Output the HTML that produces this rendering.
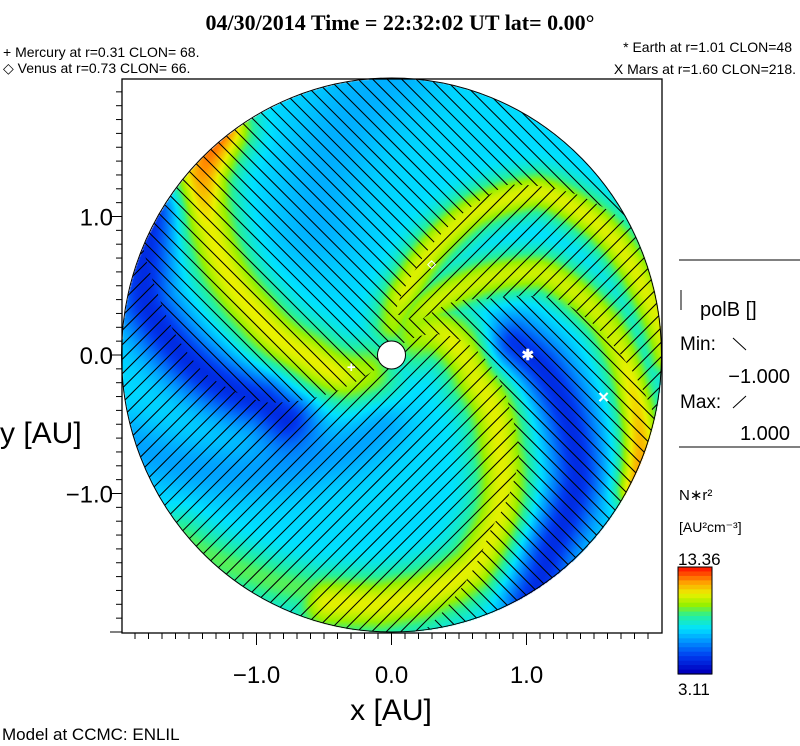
<!DOCTYPE html>
<html><head><meta charset="utf-8">
<style>
body{margin:0;background:#fff;width:800px;height:746px;overflow:hidden;position:relative;font-family:"Liberation Sans",sans-serif}
#cv{position:absolute;left:0;top:0}
#sv{position:absolute;left:0;top:0}
</style></head>
<body>
<canvas id="cv" width="800" height="746"></canvas>
<svg id="sv" width="800" height="746">
<text x="400" y="30" text-anchor="middle" font-family="Liberation Serif,serif" font-weight="bold" font-size="22">04/30/2014 Time = 22:32:02 UT lat= 0.00°</text>
<text x="3" y="57" font-size="14">+ Mercury at r=0.31 CLON= 68.</text>
<text x="3" y="73" font-size="14">◇ Venus at r=0.73 CLON= 66.</text>
<text x="792" y="52" text-anchor="end" font-size="14">* Earth at  r=1.01 CLON=48</text>
<text x="796" y="74" text-anchor="end" font-size="14">X Mars at r=1.60 CLON=218.</text>
<g id="plot"></g>
<rect x="122" y="79" width="540" height="554" fill="none" stroke="#000" stroke-width="1.3"/>
<g id="axes"></g>
<text x="0" y="443" font-size="30">y [AU]</text>
<text x="391" y="720" text-anchor="middle" font-size="30">x [AU]</text>
<text x="2" y="740" font-size="17">Model at CCMC: ENLIL</text>
<g>
<line x1="679" y1="260" x2="800" y2="260" stroke="#000"/>
<line x1="681" y1="290" x2="681" y2="310" stroke="#000"/>
<text x="700" y="316" font-size="20">polB []</text>
<text x="680" y="350" font-size="19">Min:</text>
<line x1="733" y1="338" x2="746" y2="350" stroke="#000"/>
<text x="790" y="383" text-anchor="end" font-size="20">−1.000</text>
<text x="680" y="408" font-size="19">Max:</text>
<line x1="733" y1="408" x2="746" y2="396" stroke="#000"/>
<text x="790" y="440" text-anchor="end" font-size="20">1.000</text>
<line x1="679" y1="447" x2="800" y2="447" stroke="#000"/>
</g>
<g>
<text x="679" y="500" font-size="15">N∗r²</text>
<text x="679" y="532" font-size="14">[AU²cm⁻³]</text>
<text x="678" y="565" font-size="17">13.36</text>
<g id="cbar"></g>
<rect x="678" y="567" width="34" height="107" fill="none" stroke="#000"/>
<text x="678" y="695" font-size="17">3.11</text>
</g>
</svg>
<script>
// planet data
const planetNames=['mercury','venus','earth','mars'];
const planetR=[0.31,0.73,1.01,1.60];
const planetAngle=[-164,66,0,-11];
const planetMarker=['+','◇','✱','✕'];
const xTicks=[-1,0,1];
const yTicks=[1,0,-1];
// density structures: radius [AU] and angle [deg] along each feature
const armAoR=[0.2,0.56,1.19,1.62,1.83,1.95,2.05], armAoA=[88,75,60,47,29,12,0];
const armAiR=[0.25,0.69,1.27,1.59,1.77,1.95,2.05], armAiA=[58,44,28,9,-7,-20,-28];
const armBR=[0.2,0.35,0.66,1.04,1.39,1.67,1.78,1.85], armBA=[40,27,-16,-40,-55,-70,-88,-105];
const armGR=[1.8,1.9,2.05], armGA=[-110,-125,-140];
const armLR=[0.2,0.62,1.06,1.52,1.9,2.05], armLA=[215,181,163,149,137,128];
const armDR=[0.9,1.0,1.4,1.87,2.05], armDA=[210,199,185,168,150];
const armER=[0.9,1.1,1.36,1.64,1.82,2.05], armEA=[5,-4,-18,-33,-50,-60];
const armFR=[0.5,0.9,1.3,1.7,2.05], armFA=[260,235,220,208,198];
const armHR=[1.1,1.6,2.05], armHA=[120,105,90];
// magnetic sector boundaries (polB = +1 between them)
const sec1aR=[0.1,0.46,0.97,1.2,1.46,1.81,2.05], sec1aA=[45,17,-25,-38,-60,-75,-85];
const sec1bR=[0.1,0.17,1.0,1.4,1.8,2.05], sec1bA=[-130,-140,-160,-175,-195,-205];
const sec2aR=[0.3,0.6,1.0,1.5,1.8,2.05], sec2aA=[85,75,66,55,40,25];
const sec2bR=[0.3,0.6,0.8,1.3,1.7,2.05], sec2bA=[50,40,30,18,0,-15];

const CX=391.5,CY=355,SX=135,SY=138.5,R=2.0;
const px=(x)=>CX+x*SX, py=(y)=>CY-y*SY;
const NS='http://www.w3.org/2000/svg';
function mk(t,a,p){const e=document.createElementNS(NS,t);for(const k in a)e.setAttribute(k,a[k]);(p||document.getElementById('plot')).appendChild(e);return e;}

function interp(rs,as,r){if(r<rs[0]||r>rs[rs.length-1])return null;for(let i=0;i<rs.length-1;i++){if(r<=rs[i+1]){const t=(r-rs[i])/(rs[i+1]-rs[i]);return as[i]+t*(as[i+1]-as[i]);}}return as[as.length-1];}
function armPts(rs,as){const p=[];for(let r=rs[0];r<=rs[rs.length-1]+1e-6;r+=0.05){const a=interp(rs,as,Math.min(r,rs[rs.length-1]))*Math.PI/180;p.push([r*Math.cos(a),r*Math.sin(a)]);}return p;}
function segD(x,y,p){let best=1e9;for(let i=0;i<p.length-1;i++){const ax=p[i][0],ay=p[i][1],bx=p[i+1][0]-ax,by=p[i+1][1]-ay;let t=((x-ax)*bx+(y-ay)*by)/(bx*bx+by*by);t=Math.max(0,Math.min(1,t));const dx=x-ax-t*bx,dy=y-ay-t*by,d=dx*dx+dy*dy;if(d<best)best=d;}return best;}
const feats=[
 [armPts(armAoR,armAoA),0.33,0.11,0],
 [armPts(armAiR,armAiA),0.31,0.11,1],
 [armPts(armBR,armBA),0.34,0.15,0],
 [armPts(armGR,armGA),0.18,0.13,0],
 [armPts(armLR,armLA),0.35,0.15,1],
 [armPts(armDR,armDA),-0.30,0.15,0],
 [armPts(armER,armEA),-0.30,0.14,0],
 [armPts(armFR,armFA),-0.09,0.15,0],
 [armPts(armHR,armHA),-0.07,0.25,0]];
const stops=[[0,[0,0,190]],[0.15,[0,60,240]],[0.3,[0,150,255]],[0.42,[0,225,255]],[0.55,[40,240,150]],[0.65,[150,240,0]],[0.76,[235,240,0]],[0.87,[255,160,0]],[1,[255,30,0]]];
function cmap(v){v=Math.max(0,Math.min(1,v));for(let i=0;i<stops.length-1;i++){if(v<=stops[i+1][0]){const t=(v-stops[i][0])/(stops[i+1][0]-stops[i][0]);return stops[i][1].map((c,k)=>Math.round(c+t*(stops[i+1][1][k]-c)));}}return stops[stops.length-1][1];}

const cv=document.getElementById('cv'),ctx=cv.getContext('2d');
const img=ctx.createImageData(800,746);
for(let y=74;y<636;y++)for(let x=118;x<666;x++){
 const ax=(x-CX)/SX,ay=(CY-y)/SY,r=Math.hypot(ax,ay);if(r>R)continue;
 let pos=0,neg=0;
 for(const f of feats){const d2=segD(ax,ay,f[0]);let a=f[1];if(f[3])a*=1+0.45*Math.max(0,(r-1.65)/0.35);const c=a*Math.exp(-d2/(2*f[2]*f[2]));if(a>0)pos=Math.max(pos,c);else neg+=c;}
 if(r<0.45)pos*=0.55+0.45*r/0.45;
 const v=0.41+pos+neg;
 const c=cmap(v),i=(y*800+x)*4;img.data[i]=c[0];img.data[i+1]=c[1];img.data[i+2]=c[2];img.data[i+3]=255;}
ctx.putImageData(img,0,0);

function sectorPoly(ar,aa,br,ba){
 let pts=[];
 for(let r=ar[0];r<=2.05;r+=0.03)pts.push([r,interp(ar,aa,r)]);
 const a0=interp(ar,aa,2.05),a1=interp(br,ba,2.05);
 for(let a=a0;a>=a1;a-=3)pts.push([2.1,a]);
 for(let r=2.05;r>=br[0];r-=0.03)pts.push([r,interp(br,ba,r)]);
 return pts.map(p=>[px(p[0]*Math.cos(p[1]*Math.PI/180)),py(p[0]*Math.sin(p[1]*Math.PI/180))].join(',')).join(' ');}
const poly1=sectorPoly(sec1aR,sec1aA,sec1bR,sec1bA);
const poly2=sectorPoly(sec2aR,sec2aA,sec2bR,sec2bA);
const defs=mk('defs',{});
const cp=mk('clipPath',{id:'circ'},defs);mk('ellipse',{cx:CX,cy:CY,rx:270,ry:277},cp);
const m1=mk('mask',{id:'neg'},defs);mk('rect',{x:0,y:0,width:800,height:746,fill:'#fff'},m1);mk('polygon',{points:poly1,fill:'#000'},m1);mk('polygon',{points:poly2,fill:'#000'},m1);
const m2=mk('mask',{id:'pos'},defs);mk('polygon',{points:poly1,fill:'#fff'},m2);mk('polygon',{points:poly2,fill:'#fff'},m2);
const g1=mk('g',{'clip-path':'url(#circ)',mask:'url(#neg)',stroke:'#000','stroke-width':1});


const g2=mk('g',{'clip-path':'url(#circ)',mask:'url(#pos)',stroke:'#000','stroke-width':1});


for(let k=-700;k<=700;k+=14.5){mk('line',{x1:CX+k-400,y1:CY-400,x2:CX+k+400,y2:CY+400},g1);mk('line',{x1:CX+k-400,y1:CY+400,x2:CX+k+400,y2:CY-400},g2);}
mk('ellipse',{cx:CX,cy:CY,rx:270,ry:277,fill:'none',stroke:'#000','stroke-width':1});
const sun=mk('circle',{cx:CX,cy:CY,r:14,fill:'#fff',stroke:'#000'});


planetNames.forEach((n,i)=>{const a=planetAngle[i]*Math.PI/180;
 const t=mk('text',{x:px(planetR[i]*Math.cos(a)),y:py(planetR[i]*Math.sin(a))+5,'text-anchor':'middle',fill:'#fff','font-size':i==1?11:15,'font-weight':'bold'});
 t.textContent=planetMarker[i];
 
 });

// axes
const ax=document.getElementById('axes');
for(let v=-1.9;v<=1.95;v+=0.1){const x=px(v);const maj=Math.abs(v-Math.round(v))<0.01;
 mk('line',{x1:x,y1:633,x2:x,y2:maj?645:639,stroke:'#000'},ax);}
for(let v=-2.0;v<=2.0;v+=0.1){const y=py(v);if(y<80||y>632)continue;const maj=Math.abs(v-Math.round(v))<0.01;
 mk('line',{x1:maj?110:116,y1:y,x2:122,y2:y,stroke:'#000'},ax);}
xTicks.forEach(v=>{const t=mk('text',{x:px(v),y:683,'text-anchor':'middle','font-size':24},ax);t.textContent=(v<0?'−':'')+Math.abs(v).toFixed(1);
 
 });
yTicks.forEach(v=>{const t=mk('text',{x:113,y:py(v)+9,'text-anchor':'end','font-size':24},ax);t.textContent=(v<0?'−':'')+Math.abs(v).toFixed(1);
 
 });
// colorbar
const cb=document.getElementById('cbar');
for(let i=0;i<24;i++){const v=1-i/23;const c=cmap(v);mk('rect',{x:678,y:567+i*107/24,width:34,height:107/24+0.6,fill:`rgb(${c})`},cb);}
</script>
</body></html>
